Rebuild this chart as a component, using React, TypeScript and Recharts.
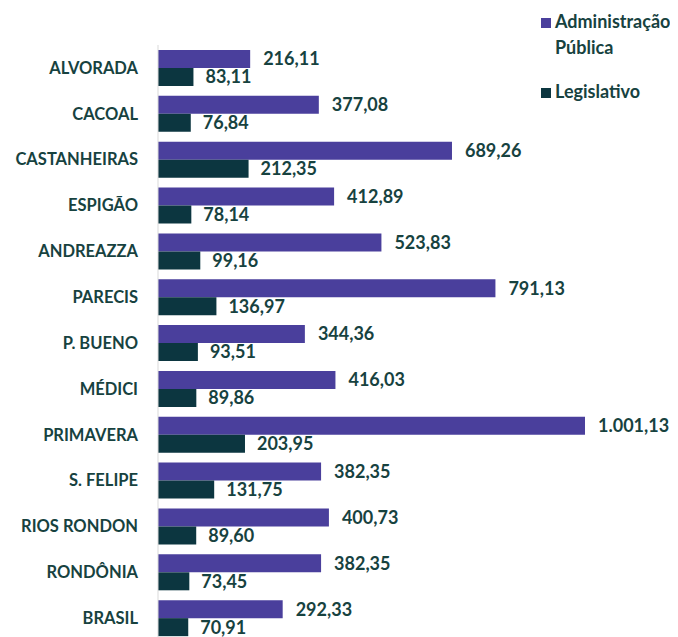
import { BarChart, Bar, XAxis, YAxis, LabelList } from 'recharts';

const municipios = [
  'ALVORADA',
  'CACOAL',
  'CASTANHEIRAS',
  'ESPIGÃO',
  'ANDREAZZA',
  'PARECIS',
  'P. BUENO',
  'MÉDICI',
  'PRIMAVERA',
  'S. FELIPE',
  'RIOS RONDON',
  'RONDÔNIA',
  'BRASIL',
];

const administracao = [
  216.11, 377.08, 689.26, 412.89, 523.83, 791.13, 344.36, 416.03, 1001.13, 382.35, 400.73,
  382.35, 292.33,
];

const legislativo = [
  83.11, 76.84, 212.35, 78.14, 99.16, 136.97, 93.51, 89.86, 203.95, 131.75, 89.6, 73.45, 70.91,
];

const data = municipios.map((nome, i) => ({
  nome,
  admin: administracao[i],
  leg: legislativo[i],
}));

const maxValor = Math.max(...administracao);

const PURPLE = '#4A3F9C';
const TEAL = '#0C3640';
const TEXT = '#17423F';
const FONT = 'Lato, "Open Sans", sans-serif';

const fmt = (v: number) => {
  const [int, dec] = v.toFixed(2).split('.');
  return `${int.replace(/\B(?=(\d{3})+(?!\d))/g, '.')},${dec}`;
};

// legenda fora do gráfico para não roubar largura da área de plotagem
function LegendBox() {
  const item = (color: string, text: React.ReactNode) => (
    <div style={{ display: 'flex', alignItems: 'flex-start', marginBottom: 22 }}>
      <span
        style={{
          width: 10,
          height: 10,
          background: color,
          marginTop: 6,
          marginRight: 4,
          flexShrink: 0,
        }}
      />
      <span style={{ lineHeight: '26px', marginTop: -4 }}>{text}</span>
    </div>
  );
  return (
    <div
      style={{
        position: 'absolute',
        top: 12,
        left: 541,
        width: 150,
        fontFamily: FONT,
        fontWeight: 700,
        fontSize: 18,
        color: TEXT,
      }}
    >
      {item(PURPLE, <>Administração<br />Pública</>)}
      {item(TEAL, 'Legislativo')}
    </div>
  );
}

export default function App() {
  return (
    <div
      style={{
        position: 'relative',
        margin: '-8px 0 0 -8px',
        width: 678,
        height: 637,
        overflow: 'hidden',
      }}
    >
      <BarChart
        width={678}
        height={660}
        data={data}
        layout="vertical"
        margin={{ top: 45, right: 93, left: 0, bottom: 19 }}
        barGap={0}
      >
        <XAxis type="number" domain={[0, maxValor]} allowDataOverflow hide />
        <YAxis
          type="category"
          dataKey="nome"
          width={158}
          tickLine={false}
          axisLine={{ stroke: '#d9d9d9' }}
          tickMargin={14}
          interval={0}
          tick={{ fill: TEXT, fontSize: 16.5, fontWeight: 700, fontFamily: FONT }}
        />
        <Bar dataKey="admin" name="Administração Pública" fill={PURPLE} barSize={18} isAnimationActive={false}>
          <LabelList
            dataKey="admin"
            position="right"
            offset={13}
            formatter={(v: number) => fmt(v)}
            style={{ fill: TEXT, fontSize: 18, fontWeight: 700, fontFamily: FONT }}
          />
        </Bar>
        <Bar dataKey="leg" name="Legislativo" fill={TEAL} barSize={18} isAnimationActive={false}>
          <LabelList
            dataKey="leg"
            position="right"
            offset={12}
            formatter={(v: number) => fmt(v)}
            style={{ fill: TEXT, fontSize: 18, fontWeight: 700, fontFamily: FONT }}
          />
        </Bar>
      </BarChart>
      <LegendBox />
    </div>
  );
}
